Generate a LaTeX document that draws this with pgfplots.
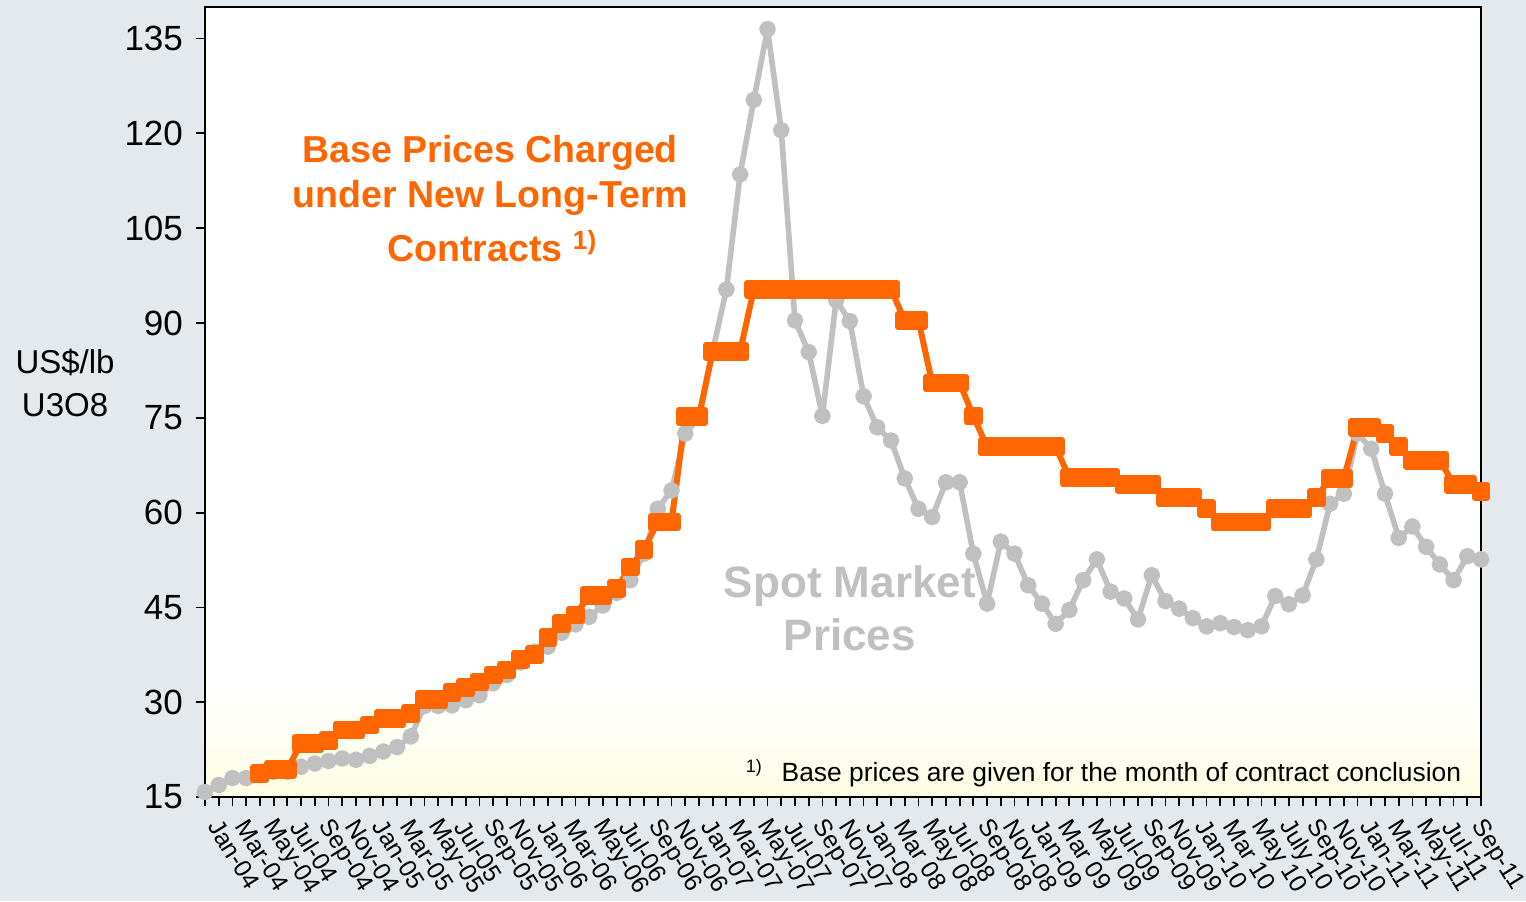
\documentclass[border=0pt]{standalone}
\usepackage{fontspec}
\setmainfont{Liberation Sans}
\usepackage{pgfplots}
\pgfplotsset{compat=1.18}
\usetikzlibrary{backgrounds}

\definecolor{bg}{RGB}{228,233,237}
\definecolor{spot}{RGB}{192,192,192}
\definecolor{base}{RGB}{255,102,0}
\definecolor{paleyellow}{RGB}{253,253,228}

\begin{document}
\begin{tikzpicture}
\begin{axis}[
    name=main,
    scale only axis,
    width=638pt, height=395pt,
    xmin=0, xmax=93,
    ymin=15, ymax=140,
    clip=false,
    axis on top,
    axis background/.style={fill=white},
    axis line style={line width=1.2pt},
    xtick pos=bottom, ytick pos=left,
    tick align=outside,
    major tick length=4.5pt, minor tick length=4.5pt,
    tick style={black, line width=0.9pt},
    ytick={15,30,...,135},
    xtick={0,2,...,92},
    minor xtick={1,3,...,93},
    xticklabels={{Jan-04},{Mar-04},{May-04},{Jul-04},{Sep-04},{Nov-04},
        {Jan-05},{Mar-05},{May-05},{Jul-05},{Sep-05},{Nov-05},
        {Jan-06},{Mar-06},{May-06},{Jul-06},{Sep-06},{Nov-06},
        {Jan-07},{Mar-07},{May-07},{Jul-07},{Sep-07},{Nov-07},
        {Jan-08},{Mar 08},{May 08},{Jul-08},{Sep-08},{Nov-08},
        {Jan-09},{Mar 09},{May 09},{Jul-09},{Sep-09},{Nov-09},
        {Jan-10},{Mar 10},{May 10},{July 10},{Sep-10},{Nov-10},
        {Jan-11},{Mar-11},{May-11},{Jul-11},{Sep-11}},
    /pgf/number format/assume math mode=true,
    yticklabel style={font=\fontsize{17.5}{20}\selectfont, xshift=-3pt},
    xticklabel style={xshift=4.5pt, yshift=-8pt, rotate=-58, anchor=west,
        inner sep=0pt, font=\fontsize{12.3}{14}\selectfont},
]
% pale band at the bottom of the plot area
\shade[top color=white, bottom color=paleyellow] (axis cs:0,15) rectangle (axis cs:93,32);

% annotations
\node[anchor=base, inner sep=0, text=base, font=\fontsize{18.75}{22}\selectfont\bfseries]
    at (axis cs:20.8,115.4) {Base Prices Charged};
\node[anchor=base, inner sep=0, text=base, font=\fontsize{18.75}{22}\selectfont\bfseries]
    at (axis cs:20.8,108.3) {under New Long-Term};
\node[anchor=base west, inner sep=0, text=base, font=\fontsize{18.75}{22}\selectfont\bfseries]
    at (axis cs:13.27,99.7) {Contracts \textsuperscript{1)}};
\node[anchor=base, inner sep=0, text=spot, font=\fontsize{22}{26}\selectfont\bfseries]
    at (axis cs:47,46.6) {Spot Market};
\node[anchor=base, inner sep=0, text=spot, font=\fontsize{22}{26}\selectfont\bfseries]
    at (axis cs:47,38.2) {Prices};
\node[anchor=base west, inner sep=0, font=\fontsize{9}{10}\selectfont]
    at (axis cs:39.4,18.9) {1)};
\node[anchor=base west, inner sep=0, font=\fontsize{13.2}{16}\selectfont]
    at (axis cs:42.0,17.4) {Base prices are given for the month of contract conclusion};
\node[align=center, inner sep=0, font=\fontsize{16.5}{21.5}\selectfont]
    at (axis cs:-10.2,80.5) {US\$/lb\\U3O8};

% spot market price
\addplot[color=spot, line width=2.8pt, line join=round, mark=*, mark size=2.8pt] coordinates {
    (0,15.8) (1,16.9) (2,18.0) (3,18.0) (4,18.5) (5,19.0) (6,19.0) (7,19.8)
    (8,20.3) (9,20.7) (10,21.1) (11,20.9) (12,21.5) (13,22.2) (14,22.9) (15,24.6)
    (16,29.4) (17,29.4) (18,29.5) (19,30.3) (20,31.1) (21,33.0) (22,34.3) (23,36.3)
    (24,38.0) (25,38.8) (26,41.0) (27,42.3) (28,43.5) (29,45.3) (30,47.3) (31,49.3)
    (32,53.5) (33,60.6) (34,63.5) (35,72.5) (36,75.0) (37,85.5) (38,95.3) (39,113.5)
    (40,125.3) (41,136.5) (42,120.5) (43,90.4) (44,85.4) (45,75.3) (46,93.6) (47,90.3)
    (48,78.4) (49,73.5) (50,71.4) (51,65.4) (52,60.6) (53,59.3) (54,64.8) (55,64.8)
    (56,53.5) (57,45.6) (58,55.4) (59,53.5) (60,48.5) (61,45.6) (62,42.4) (63,44.6)
    (64,49.3) (65,52.6) (66,47.5) (67,46.4) (68,43.1) (69,50.1) (70,46.0) (71,44.8)
    (72,43.3) (73,42.0) (74,42.5) (75,41.9) (76,41.4) (77,42.0) (78,46.8) (79,45.5)
    (80,46.9) (81,52.6) (82,61.4) (83,63.0) (84,72.5) (85,70.1) (86,63.0) (87,56.0)
    (88,57.8) (89,54.6) (90,51.8) (91,49.3) (92,53.1) (93,52.6)
};
% base prices, new long-term contracts
\addplot[color=base, line width=3pt, line join=round, mark=square*, mark size=3.2pt] coordinates {
    (4,18.75) (5,19.4) (6,19.4) (7,23.5) (8,23.5) (9,23.9) (10,25.6) (11,25.6)
    (12,26.4) (13,27.4) (14,27.4) (15,28.2) (16,30.4) (17,30.4) (18,31.5) (19,32.3)
    (20,33.2) (21,34.3) (22,35.1) (23,36.8) (24,37.6) (25,40.3) (26,42.5) (27,43.8)
    (28,46.9) (29,46.9) (30,48.0) (31,51.4) (32,54.2) (33,58.5) (34,58.5) (35,75.2)
    (36,75.2) (37,85.5) (38,85.5) (39,85.5) (40,95.3) (41,95.3) (42,95.3) (43,95.3)
    (44,95.3) (45,95.3) (46,95.3) (47,95.3) (48,95.3) (49,95.3) (50,95.3) (51,90.4)
    (52,90.4) (53,80.5) (54,80.5) (55,80.5) (56,75.3) (57,70.4) (58,70.4) (59,70.4)
    (60,70.4) (61,70.4) (62,70.4) (63,65.5) (64,65.5) (65,65.5) (66,65.5) (67,64.5)
    (68,64.5) (69,64.5) (70,62.4) (71,62.4) (72,62.4) (73,60.6) (74,58.5) (75,58.5)
    (76,58.5) (77,58.5) (78,60.6) (79,60.6) (80,60.6) (81,62.4) (82,65.4) (83,65.4)
    (84,73.5) (85,73.5) (86,72.5) (87,70.4) (88,68.3) (89,68.3) (90,68.3) (91,64.5)
    (92,64.5) (93,63.4)
};
\end{axis}

\path (main.south west) ++(-102.5pt,-52pt) coordinate (bl);
\path (main.north east) ++(22.5pt,3.5pt) coordinate (tr);
\begin{scope}[on background layer]
    \fill[bg] (bl) rectangle (tr);
\end{scope}
\pgfresetboundingbox
\path[use as bounding box] (bl) rectangle (tr);
\end{tikzpicture}
\end{document}
